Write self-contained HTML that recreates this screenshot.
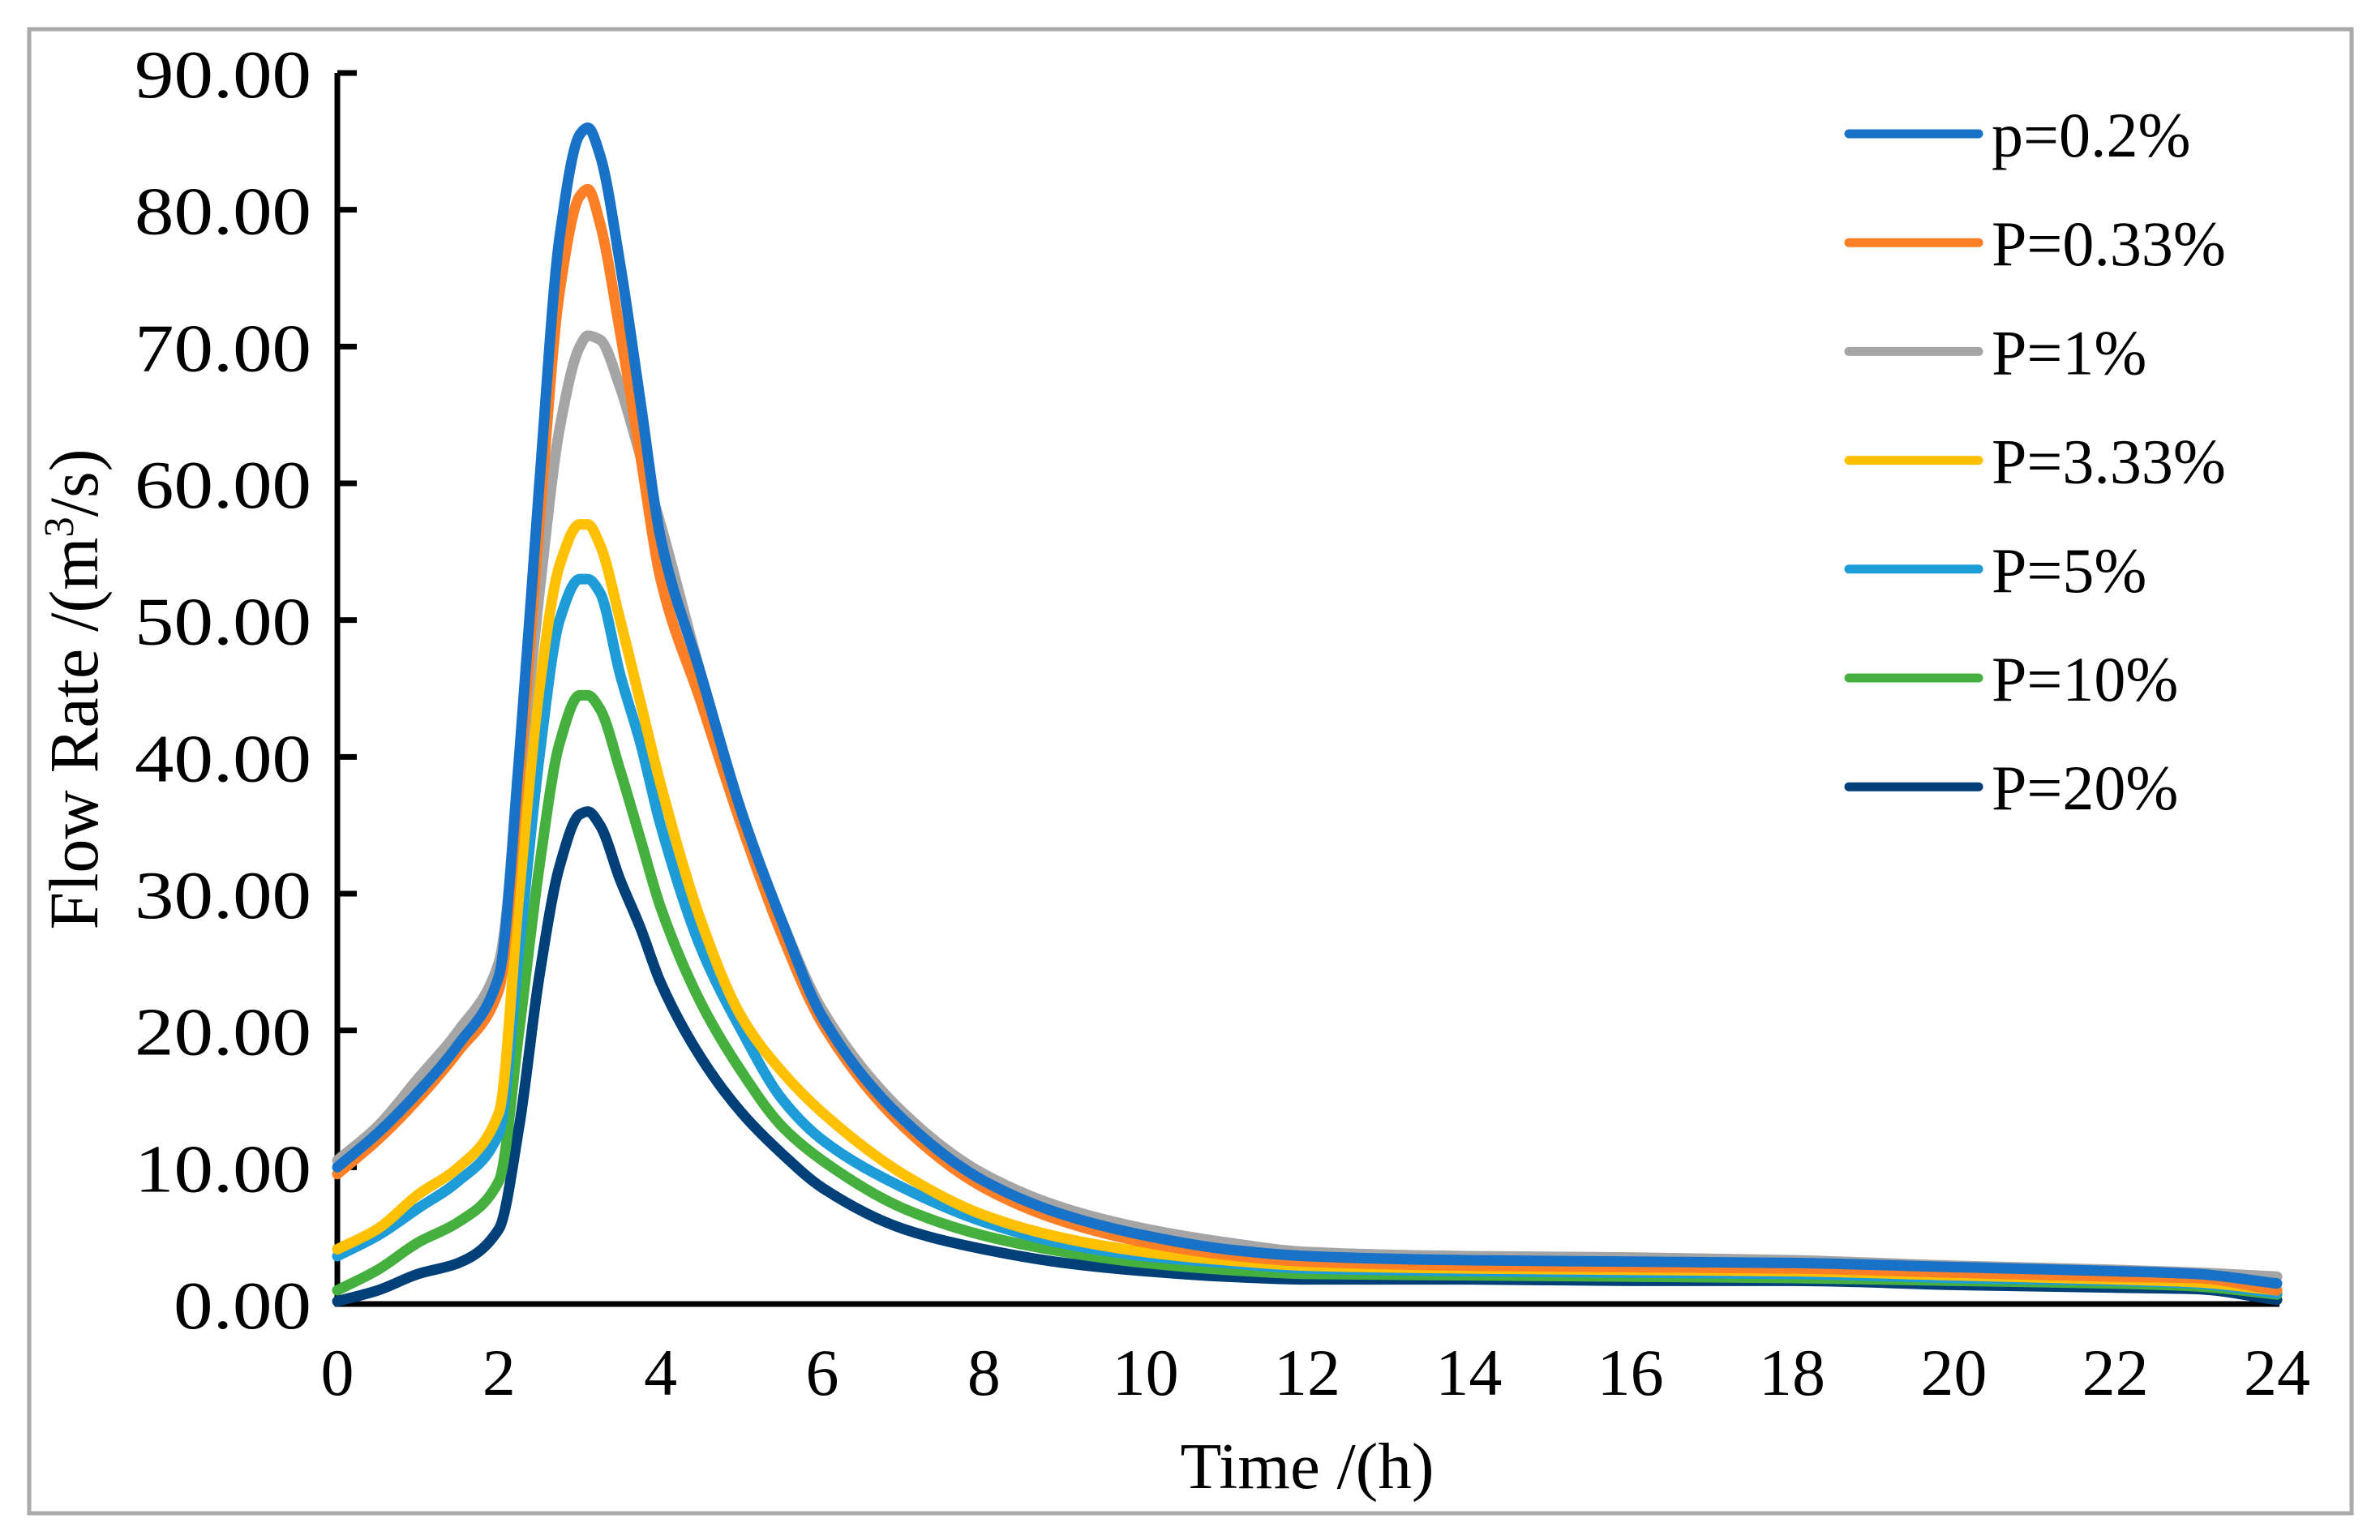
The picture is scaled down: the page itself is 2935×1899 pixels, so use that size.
<!DOCTYPE html>
<html><head><meta charset="utf-8"><style>
html,body{margin:0;padding:0;background:#fff;}
svg{display:block;}
text{font-family:"Liberation Serif",serif;fill:#000;}
</style></head><body>
<svg id="chart" width="2935" height="1899" viewBox="0 0 2935 1899" xmlns="http://www.w3.org/2000/svg">
<rect x="36" y="36" width="2864" height="1830" fill="#fff" stroke="#aaaaaa" stroke-width="5"/>
<g id="axes"></g>
<g id="series"></g>
<g id="legend"></g>
<text transform="translate(120,850) rotate(-90)" text-anchor="middle" font-size="86" textLength="593" lengthAdjust="spacingAndGlyphs">Flow Rate /(m<tspan font-size="52" dy="-30">3</tspan><tspan dy="30">/s)</tspan></text>
<text x="1612" y="1835" text-anchor="middle" font-size="80" textLength="313" lengthAdjust="spacingAndGlyphs">Time /(h)</text>
</svg>
<script>
const times=[0,0.5,1,1.5,2,2.25,2.5,2.75,3,3.1,3.25,3.5,3.75,4,4.5,5,5.5,6,7,8,9,10,11,12,14,16,18,20,22,23,24];
const p02=[10,12.5,15.5,19,24,40,60,78,85.5,86,84,76,66,56,46,36,28,21,13.5,9,6.5,5,4,3.5,3.2,3.1,3,2.7,2.4,2.2,1.5];
const p033=[9.5,12,15,18.5,23,38,57,74,81,81.5,79,71,62,53,44,35,27,20.5,13,8.5,6,4.5,3.6,3.1,2.8,2.7,2.6,2.3,2.0,1.9,1.0];
const p1=[10.5,13,16.5,20,25,38,52,64,70,70.8,70.5,67,62,57,46,36,28,21.5,14,9.5,7,5.5,4.5,3.8,3.5,3.4,3.2,2.8,2.5,2.3,2.0];
const p333=[4,5.5,8,10,14,30,45,54,57,57,55.5,50,44,38,28,21,17,14,9.5,6.5,4.8,3.8,3.2,2.8,2.6,2.5,2.4,2.1,1.8,1.6,1.0];
const p5=[3.5,5,7,9,12.5,26,40,50,53,53,52,46,41,35,26,20,15,12,8.5,6,4.4,3.5,3,2.6,2.4,2.3,2.2,1.9,1.7,1.5,0.8];
const p10=[1,2.5,4.5,6,9,20,32,41,44.5,44.5,43.5,39,34,29,22,17,13,10.5,7,5,3.8,3,2.5,2.2,2.1,2,1.9,1.7,1.5,1.3,0.7];
const p20=[0.2,1,2.2,3,5.5,13,24,32,35.8,36,35,31,27.5,23.5,18,14,11,8.5,5.5,4,3,2.4,2,1.8,1.8,1.7,1.7,1.4,1.2,1.1,0.3];
const seriesNames=["p=0.2%","P=0.33%","P=1%","P=3.33%","P=5%","P=10%","P=20%"];
const yTicks=["0.00","10.00","20.00","30.00","40.00","50.00","60.00","70.00","80.00","90.00"];
const xTicks=[0,2,4,6,8,10,12,14,16,18,20,22,24];

const NS="http://www.w3.org/2000/svg";
const X0=416,X1=2808,Y0=1608,Y1=90;
const sx=t=>X0+(t/24)*(X1-X0);
const sy=v=>Y0-(v/90)*(Y0-Y1);
function mk(tag,attrs,parent){const e=document.createElementNS(NS,tag);for(const k in attrs)e.setAttribute(k,attrs[k]);parent.appendChild(e);return e;}
const axes=document.getElementById('axes');
let e;
e=mk('line',{x1:X0,y1:Y1,x2:X0,y2:Y0+3,stroke:'#000','stroke-width':7},axes);


e=mk('line',{x1:X0-3,y1:Y0,x2:X1+3,y2:Y0,stroke:'#000','stroke-width':7},axes);


yTicks.forEach((lab,i)=>{const v=i*10;
 e=mk('line',{x1:X0,y1:sy(v),x2:X0+24,y2:sy(v),stroke:'#000','stroke-width':7},axes);
 
 
 e=mk('text',{x:384,y:sy(v)+30,'text-anchor':'end','font-size':84,textLength:(lab.length===4?170:218),lengthAdjust:'spacingAndGlyphs'},axes);e.textContent=lab;
 
 
});
xTicks.forEach(t=>{
 e=mk('text',{x:sx(t),y:1720,'text-anchor':'middle','font-size':82},axes);e.textContent=String(t);
 
 
});
const colors=["#1872c8","#ff7f27","#a5a5a5","#ffc000","#1e9cd8","#45b03e","#003f78"];
const data=[p02,p033,p1,p333,p5,p10,p20];
const sg=document.getElementById('series');
function pathFor(vals){
 const n=times.length;
 const xs=times.map(sx), ys=vals.map(sy);
 const d=[];for(let i=0;i<n-1;i++)d.push((ys[i+1]-ys[i])/(xs[i+1]-xs[i]));
 const m=new Array(n);
 m[0]=d[0];m[n-1]=d[n-2];
 for(let i=1;i<n-1;i++){
  if(d[i-1]*d[i]<=0)m[i]=0;
  else{const h0=xs[i]-xs[i-1],h1=xs[i+1]-xs[i];const w1=2*h1+h0,w2=h1+2*h0;m[i]=(w1+w2)/(w1/d[i-1]+w2/d[i]);}
 }
 let s="M"+xs[0]+","+ys[0];
 for(let i=0;i<n-1;i++){
  const h=(xs[i+1]-xs[i])/3;
  s+=" C"+(xs[i]+h)+","+(ys[i]+m[i]*h)+" "+(xs[i+1]-h)+","+(ys[i+1]-m[i+1]*h)+" "+xs[i+1]+","+ys[i+1];
 }
 return s;
}
for(let k=data.length-1;k>=0;k--){
 e=mk('path',{d:pathFor(data[k]),fill:'none',stroke:colors[k],'stroke-width':13,'stroke-linejoin':'round','stroke-linecap':'round'},sg);
 
 
}
const lg=document.getElementById('legend');
seriesNames.forEach((n,i)=>{const y=165+i*134.2;
 e=mk('line',{x1:2280,y1:y,x2:2440,y2:y,stroke:colors[i],'stroke-width':11,'stroke-linecap':'round'},lg);
 
 
 e=mk('text',{x:2456,y:y+28,'font-size':78},lg);e.textContent=n;
 
 
});
</script>
</body></html>
